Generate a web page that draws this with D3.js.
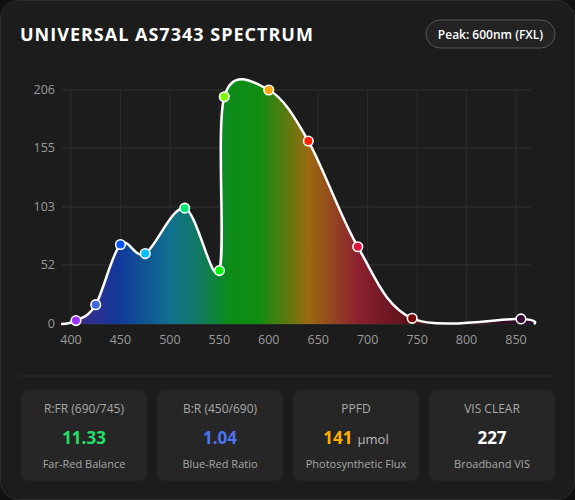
<!DOCTYPE html>
<html><head><meta charset="utf-8">
<script src="https://cdn.jsdelivr.net/npm/d3@7/dist/d3.min.js"></script>
<style>
html,body{margin:0;padding:0;background:#111;}
svg{display:block;font-family:"Open Sans","Noto Sans",sans-serif;}
</style></head><body>
<svg id="c" width="575" height="500"></svg>
<script>
const wavelengths = [390, 405, 425, 450, 475, 515, 550, 555, 600, 640, 690, 745, 855, 868];
const values      = [0,   3,   17,  70,  62,  102, 47,  200, 206, 161, 68,  5,   4.5, 0];
const showPoint   = [false,true,true,true,true,true,true,true,true,true,true,true,true,false];
const pointColors = [null,"#9b30ff","#4169e1","#0055ff","#00bfff","#00e676","#00ff00","#7cfc00","#ffa500","#ff2200","#dc143c","#7a0000","#3a0a3a",null];
const xTicks = [400,450,500,550,600,650,700,750,800,850];
const yTicks = [0,52,103,155,206];
const gradStops = [[390,"#3a1a6a"],[410,"#3a2a8a"],[450,"#103a9a"],[500,"#107090"],[530,"#107a60"],[560,"#0c8c18"],[590,"#108c10"],[640,"#9a6a10"],[690,"#8c2030"],[745,"#5a1018"],[800,"#3a1020"],[868,"#2a0c2a"]];
const cards = [
 {title:"R:FR (690/745)", value:"11.33", unit:"", sub:"Far-Red Balance", color:"#22e06a"},
 {title:"B:R (450/690)", value:"1.04", unit:"", sub:"Blue-Red Ratio", color:"#4a74f0"},
 {title:"PPFD", value:"141", unit:"µmol", sub:"Photosynthetic Flux", color:"#ffb000"},
 {title:"VIS CLEAR", value:"227", unit:"", sub:"Broadband VIS", color:"#ffffff"}
];

const svg = d3.select("#c");
svg.append("rect").attr("x",0.5).attr("y",0.5).attr("width",574).attr("height",499).attr("rx",18)
  .attr("fill","#1c1c1c").attr("stroke","#2c2c2c");
svg.append("text").attr("x",20).attr("y",41).attr("fill","#fff").attr("font-size",18).attr("font-weight",700)
  .attr("letter-spacing",1).text("UNIVERSAL AS7343 SPECTRUM");
svg.append("rect").attr("x",426).attr("y",20).attr("width",129).attr("height",28).attr("rx",14)
  .attr("fill","#232323").attr("stroke","#555");
svg.append("text").attr("x",490.5).attr("y",39).attr("text-anchor","middle").attr("fill","#fff")
  .attr("font-size",12).attr("font-weight",600).text("Peak: 600nm (FXL)");

const x = d3.scaleLinear().domain([400,850]).range([71,516]);
const y = d3.scaleLinear().domain([0,206]).range([324,90]);
const g = svg.append("g");
g.selectAll(".gy").data(yTicks).join("line").attr("x1",62).attr("x2",531)
  .attr("y1",d=>y(d)).attr("y2",d=>y(d)).attr("stroke","#333");
g.selectAll(".gx").data(xTicks).join("line").attr("x1",d=>x(d)).attr("x2",d=>x(d))
  .attr("y1",90).attr("y2",324).attr("stroke","#2c2c2c");
g.selectAll(".ty").data(yTicks).join("text").attr("x",55).attr("y",d=>y(d)+4).attr("text-anchor","end")
  .attr("fill","#9a9a9a").attr("font-size",12.5).text(d=>d);
g.selectAll(".tx").data(xTicks).join("text").attr("x",d=>x(d)).attr("y",344).attr("text-anchor","middle")
  .attr("fill","#9a9a9a").attr("font-size",12.5).text(d=>d);

const defs = svg.append("defs");
const lg = defs.append("linearGradient").attr("id","spec").attr("gradientUnits","userSpaceOnUse")
  .attr("x1",x(390)).attr("x2",x(868)).attr("y1",0).attr("y2",0);
lg.selectAll("stop").data(gradStops).join("stop")
  .attr("offset",d=>(d[0]-390)/(868-390)).attr("stop-color",d=>d[1]);

const data = wavelengths.map((w,i)=>({w,v:values[i],show:showPoint[i],c:pointColors[i]}));
const curve = d3.curveCatmullRom.alpha(0);
g.append("path").datum(data).attr("fill","url(#spec)")
  .attr("d",d3.area().x(d=>x(d.w)).y0(y(0)).y1(d=>y(d.v)).curve(curve));
g.append("path").datum(data).attr("fill","none").attr("stroke","#fff").attr("stroke-width",2.5)
  .attr("d",d3.line().x(d=>x(d.w)).y(d=>y(d.v)).curve(curve));
g.selectAll(".pt").data(data.filter(d=>d.show)).join("circle")
  .attr("cx",d=>x(d.w)).attr("cy",d=>y(d.v)).attr("r",4.8)
  .attr("fill",d=>d.c).attr("stroke","#fff").attr("stroke-width",1.6);

svg.append("line").attr("x1",20).attr("x2",555).attr("y1",376).attr("y2",376).attr("stroke","#2e2e2e");
const cw=126, cx0=21, gap=10;
const cg = svg.selectAll(".card").data(cards).join("g").attr("transform",(d,i)=>`translate(${cx0+i*(cw+gap)},390)`);
cg.append("rect").attr("width",cw).attr("height",91).attr("rx",8).attr("fill","#262626");
cg.append("text").attr("x",cw/2).attr("y",23).attr("text-anchor","middle").attr("fill","#a8a8a8").attr("font-size",12).text(d=>d.title);
cg.append("text").attr("x",cw/2).attr("y",54).attr("text-anchor","middle").attr("font-size",17).attr("font-weight",700)
  .each(function(d){
    const t=d3.select(this);
    t.append("tspan").attr("fill",d.color).text(d.value);
    if(d.unit) t.append("tspan").attr("fill","#bbb").attr("font-size",13).attr("font-weight",400).attr("dx",5).text(d.unit);
  });
cg.append("text").attr("x",cw/2).attr("y",78).attr("text-anchor","middle").attr("fill","#a8a8a8").attr("font-size",11).text(d=>d.sub);
</script></body></html>
